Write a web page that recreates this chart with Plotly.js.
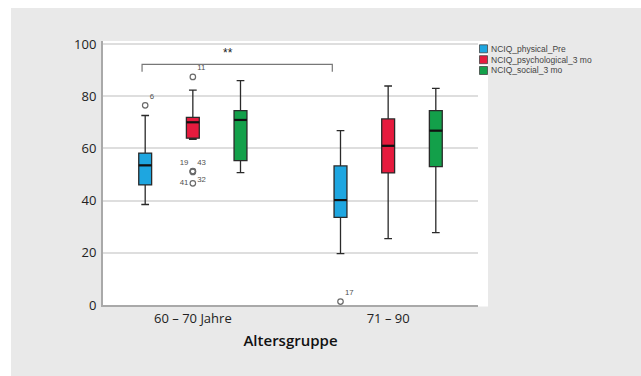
<!DOCTYPE html>
<html>
<head>
<meta charset="utf-8">
<script src="https://cdn.plot.ly/plotly-3.0.1.min.js"></script>
<style>html,body{margin:0;padding:0;background:#fff;}#chart{width:641px;height:376px;}</style>
</head>
<body>
<div id="chart"></div>
<script>
// ---- data ----
const groups = ["60 – 70 Jahre", "71 – 90"];
const seriesNames = ["NCIQ_physical_Pre", "NCIQ_psychological_3 mo", "NCIQ_social_3 mo"];

const physLower = [38.5, 19.7];
const physQ1    = [46.0, 33.6];
const physMed   = [53.5, 40.2];
const physQ3    = [58.2, 53.3];
const physUpper = [72.6, 66.8];

const psychLower = [63.5, 25.4];
const psychQ1    = [63.9, 50.6];
const psychMed   = [70.0, 61.0];
const psychQ3    = [71.9, 71.3];
const psychUpper = [82.3, 83.9];

const socLower = [50.7, 27.7];
const socQ1    = [55.3, 53.0];
const socMed   = [70.9, 66.8];
const socQ3    = [74.5, 74.5];
const socUpper = [86.0, 83.0];

const physOutGroup = [0, 1];
const physOutVal   = [76.5, 1.3];
const physOutLabel = ["6", "17"];

const psychOutGroup = [0, 0, 0, 0, 0];
const psychOutVal   = [87.4, 51.3, 51.2, 51.0, 46.6];
const psychOutLabel = ["11", "19", "43", "32", "41"];

const yTicks = [0, 20, 40, 60, 80, 100];
const sigLabel = "**";
const xTitle = "Altersgruppe";

// ---- styling / layout ----
const colors = ["#1ea6e0", "#e61b3e", "#13a04a"];
const offsets = [-0.244, 0, 0.244];
const boxW = 0.066;
const stats = [
  [physLower, physQ1, physMed, physQ3, physUpper],
  [psychLower, psychQ1, psychMed, psychQ3, psychUpper],
  [socLower, socQ1, socMed, socQ3, socUpper]
];
const idx = groups.map((g, i) => i);

const traces = stats.map((s, k) => ({
  type: 'box',
  name: seriesNames[k],
  x: idx.map(i => i + offsets[k]),
  lowerfence: s[0], q1: s[1], median: s[2], q3: s[3], upperfence: s[4],
  width: boxW,
  whiskerwidth: 0.6,
  fillcolor: colors[k],
  line: {color: '#2a2a2a', width: 1.3},
  boxpoints: false,
  hoverinfo: 'skip',
  showlegend: false
}));

// thick median bars drawn over the boxes
stats.forEach((s, k) => {
  const xs = [], ys = [];
  idx.forEach(i => {
    const c = i + offsets[k];
    xs.push(c - boxW / 2, c + boxW / 2, null);
    ys.push(s[2][i], s[2][i], null);
  });
  traces.push({type: 'scatter', mode: 'lines', x: xs, y: ys,
    line: {color: '#111', width: 2.2}, showlegend: false, hoverinfo: 'skip'});
});

const labelPos = {"6": "top right", "17": "top right", "11": "top right",
  "19": "top left", "43": "top right", "32": "bottom right", "41": "middle left"};

function outTrace(g, v, lab, k) {
  return {
    type: 'scatter', mode: 'markers+text',
    x: g.map(i => i + offsets[k]), y: v, text: lab,
    textposition: lab.map(l => labelPos[l]),
    textfont: {family: 'Liberation Sans, Arial, sans-serif', size: 7.8, color: '#505050'},
    marker: {symbol: 'circle-open', size: 5.5, color: '#6a6a6a', line: {width: 1.2}},
    cliponaxis: false, showlegend: false, hoverinfo: 'skip'
  };
}
traces.push(outTrace(physOutGroup, physOutVal, physOutLabel, 0));
traces.push(outTrace(psychOutGroup, psychOutVal, psychOutLabel, 1));

// pixel helpers for paper coords (plot area 103..478 x 41..305)
const L = 103, R = 478, T = 41, B = 305;
const px = v => (v - L) / (R - L);
const py = v => (B - v) / (B - T);

const shapes = [
  {type: 'rect', xref: 'paper', yref: 'paper', x0: px(-5), x1: px(11), y0: py(380), y1: py(-5), fillcolor: '#fff', line: {width: 0}, layer: 'below'},
  {type: 'rect', xref: 'paper', yref: 'paper', x0: px(-5), x1: px(645), y0: py(8), y1: py(-5), fillcolor: '#fff', line: {width: 0}, layer: 'below'},
  {type: 'rect', xref: 'paper', yref: 'paper', x0: 1, x1: px(488), y0: py(306.5), y1: 1, fillcolor: '#fff', line: {width: 0}, layer: 'below'},
  {type: 'path', xref: 'x', yref: 'y', path: 'M -0.26,89.4 L -0.26,92.2 L 0.714,92.2 L 0.714,89.4', line: {color: '#777', width: 1.2}}
];

const annotations = [
  {xref: 'x', yref: 'y', x: 0.178, y: 96.6, text: sigLabel, showarrow: false,
   font: {family: 'Liberation Sans, Arial, sans-serif', size: 12, color: '#222'}}
];

const legY = [48.8, 59.7, 70.5];
seriesNames.forEach((n, k) => {
  shapes.push({type: 'rect', xref: 'paper', yref: 'paper', x0: px(479.5), x1: px(487.5),
    y0: py(legY[k] + 4), y1: py(legY[k] - 4), fillcolor: colors[k], line: {color: '#444', width: 0.8}});
  annotations.push({xref: 'paper', yref: 'paper', x: px(489), y: py(legY[k]), xanchor: 'left', yanchor: 'middle',
    text: n, showarrow: false, font: {family: 'Liberation Sans, Arial, sans-serif', size: 8.5, color: '#444'}});
});

const layout = {
  width: 641, height: 376,
  margin: {l: L, r: 641 - R, t: T, b: 376 - B, pad: 0},
  paper_bgcolor: '#e9e9e9',
  plot_bgcolor: '#ffffff',
  showlegend: false,
  font: {family: 'Open Sans, Noto Sans, sans-serif', color: '#222', size: 13},
  xaxis: {
    type: 'linear', range: [-0.46, 1.46],
    tickvals: idx, ticktext: groups,
    showgrid: false, zeroline: false,
    showline: true, linecolor: '#a9a9a9', linewidth: 2,
    ticks: '', tickfont: {size: 13, color: '#222'},
    title: {text: xTitle, font: {size: 15, color: '#111', weight: 600}, standoff: 10}
  },
  yaxis: {
    range: [0, 101.15], tickvals: yTicks,
    showgrid: true, gridcolor: '#dedede', gridwidth: 2,
    zeroline: false,
    showline: true, linecolor: '#a9a9a9', linewidth: 2,
    ticks: '', ticklabelstandoff: 2, tickfont: {size: 13, color: '#222'}
  },
  shapes: shapes,
  annotations: annotations
};

Plotly.newPlot('chart', traces, layout, {displayModeBar: false, staticPlot: true});
</script>
</body>
</html>
